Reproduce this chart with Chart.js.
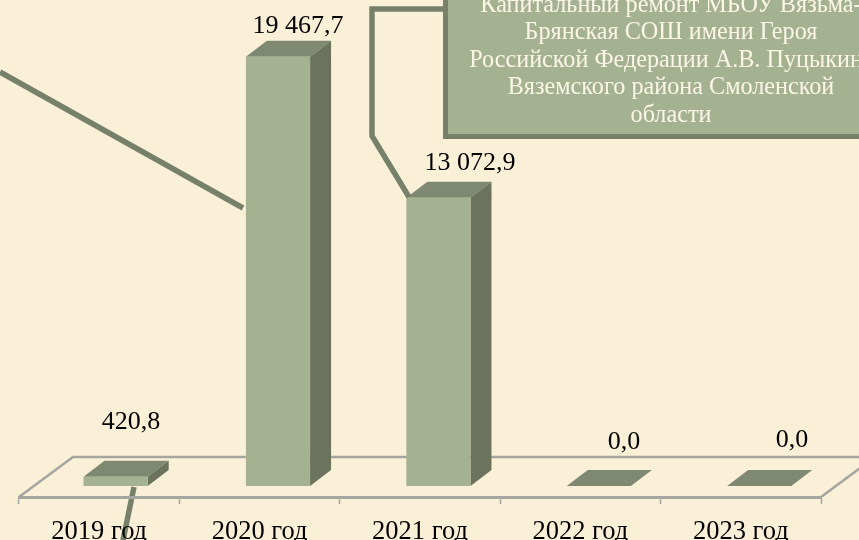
<!DOCTYPE html>
<html><head><meta charset="utf-8">
<style>html,body{margin:0;padding:0;background:#FAF0D7;overflow:hidden}canvas{display:block}</style>
<script src="https://cdn.jsdelivr.net/npm/chart.js@4"></script></head>
<body><div style="width:859px;height:540px"><canvas id="c" width="859" height="540"></canvas></div>
<script>
const categories = ['2019 год','2020 год','2021 год','2022 год','2023 год'];
const values = [420.8,19467.7,13072.9,0,0];
const valueLabels = ['420,8','19 467,7','13 072,9','0,0','0,0'];
const perspectiveShift = [16.4,18.4,18.4,18.4,18.4];
const labelCenterX = [131,298,470,624,792];
const labelBaselineY = [429,33,170,449,447];
const calloutLines = ['Капитальный ремонт МБОУ Вязьма-','Брянская СОШ имени Героя','Российской Федерации А.В. Пуцыкин','Вяземского района Смоленской','области'];
const calloutCenterX = [671,671,666,671,671];

const FONT='"Liberation Serif","Times New Roman",serif';
const C={bg:'#FAF0D7',front:'#A5B292',side:'#6B735C',top:'#7F8871',line:'#77816A',axis:'#A6A6A0'};
const DX=21, DY=-16;
const seg=(ctx,pts,w,col)=>{ctx.beginPath();pts.forEach((p,i)=>i?ctx.lineTo(p[0],p[1]):ctx.moveTo(p[0],p[1]));ctx.lineWidth=w;ctx.strokeStyle=col;ctx.stroke();};
const poly=(ctx,pts,col)=>{ctx.beginPath();pts.forEach((p,i)=>i?ctx.lineTo(p[0],p[1]):ctx.moveTo(p[0],p[1]));ctx.closePath();ctx.fillStyle=col;ctx.fill();};

const scene={
  id:'scene',
  beforeDraw(ch){
    const c=ch.ctx,x=ch.scales.x,b=ch.chartArea.bottom;
    c.save();
    c.fillStyle=C.bg;c.fillRect(0,0,ch.width,ch.height);
    c.lineCap='butt';c.lineJoin='miter';
    seg(c,[[x.left,b],[x.left+54,b-40],[x.right+54,b-40],[x.right,b]],2.5,C.axis);
    seg(c,[[134,487],[122,545]],5.5,C.line);
    c.restore();
  },
  beforeDatasetDraw(ch){
    const c=ch.ctx,sx=ch.scales.x;
    ch.getDatasetMeta(0).data.forEach((el,i)=>{
      el.x=sx.getPixelForValue(i)+perspectiveShift[i];
      const p=el.getProps(['x','y','base','width'],true);
      const l=p.x-p.width/2,r=p.x+p.width/2;
      poly(c,[[l,p.y],[r,p.y],[r+DX,p.y+DY],[l+DX,p.y+DY]],C.top);
      if(p.base>p.y) poly(c,[[r,p.y],[r+DX,p.y+DY],[r+DX,p.base+DY],[r,p.base]],C.side);
    });
  },
  afterDatasetsDraw(ch){
    const c=ch.ctx;
    c.save();
    c.lineJoin='miter';
    seg(c,[[0,72],[243,208]],5.5,C.line);
    seg(c,[[446,9],[372,9],[372,136],[409,197]],5.5,C.line);
    c.fillStyle=C.front;c.fillRect(445.5,-10,430,146.5);
    c.strokeStyle=C.line;c.lineWidth=5;c.strokeRect(445.5,-10,430,146.5);
    c.font='24.2px '+FONT;c.fillStyle='#FBF6E6';c.textAlign='center';c.textBaseline='alphabetic';
    calloutLines.forEach((t,i)=>c.fillText(t,calloutCenterX[i],11.5+i*27.5));
    c.font='26px '+FONT;c.fillStyle='#000';
    valueLabels.forEach((t,i)=>c.fillText(t,labelCenterX[i],labelBaselineY[i]));
    c.restore();
  }
};

new Chart(document.getElementById('c'),{
  type:'bar',
  data:{labels:categories,datasets:[{data:values,backgroundColor:C.front,borderWidth:0,barPercentage:0.4,categoryPercentage:1,clip:false}]},
  plugins:[scene],
  options:{
    responsive:false,animation:false,
    layout:{padding:{left:19,right:38,top:45,bottom:0}},
    plugins:{legend:{display:false},tooltip:{enabled:false},title:{display:false}},
    scales:{
      y:{display:false,min:-500,max:20000},
      x:{
        afterFit(s){s.height=43;},
        border:{display:true,color:C.axis,width:3},
        grid:{display:true,drawOnChartArea:false,drawTicks:true,tickLength:7,tickColor:C.axis,tickWidth:1.5,offset:true},
        ticks:{color:'#000',font:{family:FONT,size:26.5},padding:12,autoSkip:false,maxRotation:0,minRotation:0}
      }
    }
  }
});
</script></body></html>
